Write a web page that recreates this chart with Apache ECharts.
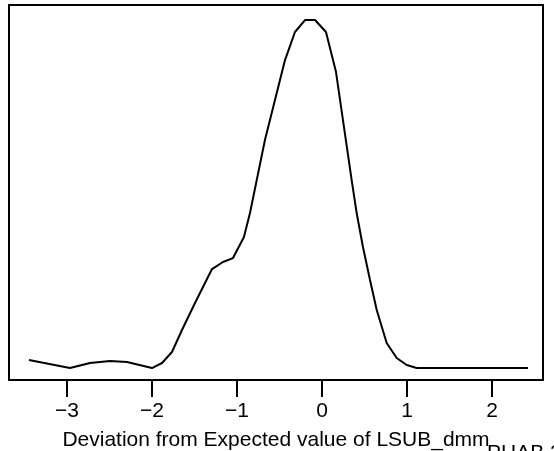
<!DOCTYPE html>
<html>
<head>
<meta charset="utf-8">
<script src="https://cdn.jsdelivr.net/npm/echarts@6/dist/echarts.min.js"></script>
<style>html,body{margin:0;padding:0;background:#fff}#c{width:554px;height:451px}</style>
</head>
<body>
<div id="c"></div>
<script>
const xValues = [-3.447,-2.965,-2.729,-2.494,-2.294,-2.0,-1.882,-1.765,-1.647,-1.494,-1.294,-1.165,-1.047,-0.918,-0.847,-0.671,-0.435,-0.318,-0.2,-0.082,0.047,0.165,0.349,0.408,0.482,0.565,0.644,0.761,0.879,0.996,1.114,2.424];
const densityValues = [0.0115,0,0.0072,0.0101,0.0086,0,0.0072,0.023,0.0546,0.0934,0.1422,0.1523,0.158,0.1882,0.2227,0.3276,0.4425,0.4828,0.5,0.5,0.4828,0.4253,0.270,0.2227,0.1739,0.1264,0.0833,0.0359,0.0144,0.0043,0,0];
const tickLabels = [-3,-2,-1,0,1,2];
const xTitle = 'Deviation from Expected value of LSUB_dmm';
const cornerText = 'PHAB 2';

const chart = echarts.init(document.getElementById('c'), null, {renderer:'canvas'});
const font = '"Liberation Sans", Arial, sans-serif';
chart.setOption({
  animation:false,
  backgroundColor:'#fff',
  grid:{left:9,right:11,top:5,bottom:71,outerBoundsMode:'none',containLabel:false,show:true,borderColor:'#000',borderWidth:2,backgroundColor:'transparent'},
  xAxis:{type:'value',min:-3.682,max:2.6,position:'bottom',
    name:xTitle,nameLocation:'middle',nameGap:50,
    nameTextStyle:{color:'#000',fontSize:21,fontFamily:font},
    axisLine:{show:true,onZero:false,lineStyle:{color:'#000',width:2}},
    splitLine:{show:false},
    axisTick:{show:true,inside:false,length:17,lineStyle:{color:'#000',width:2},customValues:tickLabels},
    axisLabel:{color:'#000',fontSize:21,fontFamily:font,margin:21,customValues:tickLabels,
      formatter:v=>v<0?'\u2212'+Math.abs(v):String(v)}
  },
  yAxis:{type:'value',min:-0.0172,max:0.5216,show:false,splitLine:{show:false}},
  series:[{type:'line',data:xValues.map((x,i)=>[x,densityValues[i]]),showSymbol:false,
    lineStyle:{color:'#000',width:2},itemStyle:{color:'#000'}}],
  graphic:[{type:'text',left:487,top:443,style:{text:cornerText,fill:'#000',font:'21px '+font}}]
});
</script>
</body>
</html>
